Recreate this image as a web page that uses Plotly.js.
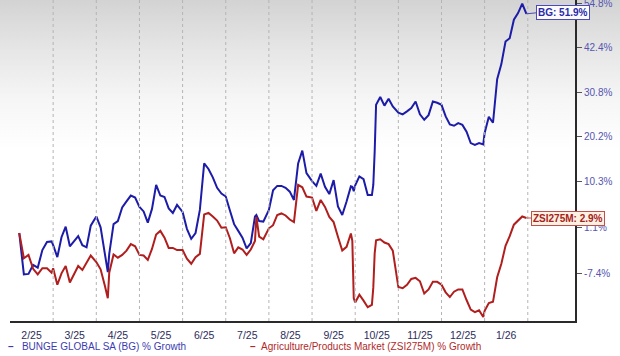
<!DOCTYPE html>
<html>
<head>
<meta charset="utf-8">
<script src="https://cdn.plot.ly/plotly-3.0.1.min.js"></script>
<style>
html,body{margin:0;padding:0;}
body{width:620px;height:356px;overflow:hidden;background:linear-gradient(to bottom,#d3d3d3 0px,#e6e6e6 50px,#f6f6f6 100px,#ffffff 150px,#ffffff 356px);}
#chart{width:620px;height:356px;}
</style>
</head>
<body>
<div id="chart"></div>
<script>
// ---- data ----
const dates = [
 '2025-02-07','2025-02-10','2025-02-13','2025-02-16','2025-02-19','2025-02-22','2025-02-25','2025-02-28',
 '2025-03-01','2025-03-04','2025-03-07','2025-03-10','2025-03-13','2025-03-16','2025-03-19','2025-03-22','2025-03-25','2025-03-28',
 '2025-04-01','2025-04-04','2025-04-07','2025-04-09','2025-04-10','2025-04-13','2025-04-16','2025-04-19','2025-04-22','2025-04-25','2025-04-28',
 '2025-05-01','2025-05-04','2025-05-07','2025-05-10','2025-05-13','2025-05-16','2025-05-19','2025-05-22','2025-05-25','2025-05-28',
 '2025-06-01','2025-06-04','2025-06-07','2025-06-10','2025-06-13','2025-06-16','2025-06-19','2025-06-22','2025-06-25','2025-06-28',
 '2025-07-01','2025-07-04','2025-07-07','2025-07-10','2025-07-13','2025-07-16','2025-07-19','2025-07-22','2025-07-23','2025-07-25','2025-07-28',
 '2025-08-01','2025-08-04','2025-08-07','2025-08-10','2025-08-13','2025-08-16','2025-08-19','2025-08-22','2025-08-25','2025-08-28',
 '2025-09-01','2025-09-04','2025-09-07','2025-09-10','2025-09-13','2025-09-16','2025-09-19','2025-09-22','2025-09-25','2025-09-28','2025-09-29','2025-09-30',
 '2025-10-01','2025-10-04','2025-10-07','2025-10-10','2025-10-13','2025-10-14','2025-10-15','2025-10-16','2025-10-19','2025-10-22','2025-10-25','2025-10-28',
 '2025-11-01','2025-11-04','2025-11-07','2025-11-10','2025-11-13','2025-11-16','2025-11-19','2025-11-22','2025-11-25','2025-11-28',
 '2025-12-01','2025-12-04','2025-12-07','2025-12-10','2025-12-13','2025-12-16','2025-12-19','2025-12-22','2025-12-25','2025-12-28','2025-12-31',
 '2026-01-01','2026-01-04','2026-01-07','2026-01-10','2026-01-13','2026-01-16','2026-01-19','2026-01-22','2026-01-25','2026-01-28','2026-01-31'
];
const bgGrowth = [
 0.0,-7.6,-7.5,-5.9,-6.4,-3.2,-1.7,-1.6,
 -2.3,-4.5,-0.8,1.2,-2.5,-1.6,-0.6,-2.3,-2.7,1.4,
 3.2,1.1,-3.9,-7.2,-3.9,1.7,2.3,5.0,6.2,7.4,7.0,
 5.1,4.2,2.0,4.7,9.6,7.4,7.1,4.8,3.9,5.5,
 4.1,0.8,-1.1,0.0,4.5,14.2,13.0,11.2,9.0,7.8,
 7.2,4.4,1.7,0.4,-0.9,-2.9,-1.9,3.2,3.5,2.3,2.2,
 4.5,8.5,9.4,9.4,9.0,8.2,6.5,14.2,17.0,12.1,
 10.4,9.4,12.0,9.2,7.7,10.6,5.2,3.5,6.2,9.3,9.2,8.3,
 9.5,11.4,10.8,7.5,7.5,9.6,16.8,27.7,29.6,27.5,29.2,27.3,
 25.8,25.4,26.1,26.9,28.5,25.4,24.1,25.2,28.5,28.2,
 27.7,24.9,23.0,22.7,23.3,22.9,21.3,18.7,18.3,18.7,18.4,
 21.0,24.8,23.4,34.1,38.0,44.1,45.0,50.2,52.1,54.9,51.9
];
const zsiGrowth = [
 0.0,-4.7,-4.1,-6.6,-7.6,-6.5,-6.5,-7.3,
 -6.5,-9.4,-7.4,-6.1,-9.0,-7.6,-6.1,-6.8,-5.5,-4.2,
 -5.4,-6.7,-9.6,-11.7,-7.3,-4.0,-4.6,-4.1,-3.3,-2.1,-2.5,
 -4.1,-4.2,-5.0,-3.0,-0.3,0.4,-0.9,-2.8,-2.8,-3.2,
 -3.2,-4.8,-5.7,-4.5,-3.9,3.6,3.9,3.2,2.4,1.0,
 1.1,-1.0,-3.8,-2.7,-3.1,-4.1,-3.1,-1.5,3.1,-0.7,-1.2,
 0.9,1.5,3.5,3.8,3.4,2.6,2.1,9.6,9.1,7.2,
 7.0,4.3,6.5,5.1,3.1,2.1,-0.7,-3.3,-2.6,-0.1,-1.5,-11.7,
 -12.4,-11.1,-12.1,-13.2,-12.8,-9.9,-3.8,-1.4,-1.2,-1.8,-2.1,-3.3,
 -9.8,-10.0,-9.4,-8.4,-8.2,-8.8,-10.9,-10.2,-8.9,-8.9,
 -9.4,-10.7,-11.5,-10.6,-10.2,-10.2,-12.0,-13.6,-14.0,-13.7,-14.8,
 -13.8,-12.5,-12.3,-8.1,-5.7,-2.4,-0.6,1.6,2.5,3.2,2.9
];
const monthLabels = ['2/25','3/25','4/25','5/25','6/25','7/25','8/25','9/25','10/25','11/25','12/25','1/26'];
const yTickPct = [54.8, 42.4, 30.8, 20.2, 10.3, 1.1, -7.4];
const bgName = 'BUNGE GLOBAL SA (BG) % Growth';
const zsiName = 'Agriculture/Products Market (ZSI275M) % Growth';
const bgShort = 'BG';
const zsiShort = 'ZSI275M';

// ---- helpers ----
// months since Feb 1 2025 (each month drawn with equal width, as in the reference)
function monthPos(s){
  const p = s.split('-').map(Number);
  const dim = new Date(p[0], p[1], 0).getDate();
  return (p[0]-2025)*12 + (p[1]-2) + (p[2]-1)/dim;
}
const xs = dates.map(monthPos);
const toFactor = v => 1 + v/100;

const FONT = 'Liberation Sans, Arial, sans-serif';
const BLUE = '#1c1ca8', RED = '#b01e1e';
const GRID = '#b4b4b4';

const traces = [
  {x: xs, y: bgGrowth.map(toFactor), type:'scatter', mode:'lines', name: bgName,
   line:{color: BLUE, width: 2}, hoverinfo:'skip'},
  {x: xs, y: zsiGrowth.map(toFactor), type:'scatter', mode:'lines', name: zsiName,
   line:{color: RED, width: 2}, hoverinfo:'skip'}
];

const lastX = xs[xs.length-1];
const bgLast = bgGrowth[bgGrowth.length-1];
const zsiLast = zsiGrowth[zsiGrowth.length-1];

// grid lines drawn as dotted shapes: month boundaries (vertical) and value ticks (horizontal)
const shapes = monthLabels.map((_, i) => ({
  type:'line', xref:'x', yref:'paper', x0:i+1, x1:i+1, y0:0, y1:1,
  line:{color:GRID, width:1, dash:'dot'}, layer:'above'
})).concat(yTickPct.map(p => ({
  type:'line', xref:'paper', yref:'y', x0:0, x1:1,
  y0:Math.log10(toFactor(p)), y1:Math.log10(toFactor(p)),
  line:{color:GRID, width:1, dash:'dot'}, layer:'above'
})));

const annotations = [
  {x: lastX, y: Math.log10(toFactor(bgLast)), xref:'x', yref:'y', text:'<b>'+bgShort+': '+bgLast.toFixed(1)+'%</b>',
   showarrow:true, arrowhead:0, arrowwidth:1, arrowcolor:'#4a4ab8', ax:10, ay:-1, xanchor:'left', yanchor:'middle',
   bgcolor:'#fbfbff', bordercolor:'#4a4ab8', borderwidth:1, borderpad:1,
   font:{family:FONT, size:10, color:'#2a2aa8'}},
  {x: lastX, y: Math.log10(toFactor(zsiLast)), xref:'x', yref:'y', text:'<b>'+zsiShort+': '+zsiLast.toFixed(1)+'%</b>',
   showarrow:true, arrowhead:0, arrowwidth:1, arrowcolor:'#c05050', ax:5, ay:0, xanchor:'left', yanchor:'middle',
   bgcolor:'#fdf1e1', bordercolor:'#c05050', borderwidth:1, borderpad:1,
   font:{family:FONT, size:10, color:'#a52222'}},
  {xref:'paper', yref:'paper', x:-0.007, y:-0.078, xanchor:'left', yanchor:'middle', showarrow:false,
   text:'<b>\u2013</b>\u00a0\u00a0\u00a0'+bgName, font:{family:FONT, size:10, color:'#3c3cb0'}},
  {xref:'paper', yref:'paper', x:0.421, y:-0.078, xanchor:'left', yanchor:'middle', showarrow:false,
   text:'<b>\u2013</b>\u00a0\u00a0'+zsiName, font:{family:FONT, size:10, color:'#b02a2a'}}
];

const layout = {
  width:620, height:356,
  margin:{l:10, r:45, t:0, b:35},
  paper_bgcolor:'rgba(0,0,0,0)', plot_bgcolor:'rgba(0,0,0,0)',
  showlegend:false,
  xaxis:{
    range:[0, 13.094], tickmode:'array',
    tickvals: monthLabels.map((_, i) => i + 0.5), ticktext: monthLabels,
    showgrid:false, zeroline:false, showline:true, linecolor:'#2a2a2a', linewidth:2,
    ticks:'outside', ticklen:3, tickcolor:'rgba(0,0,0,0)',
    tickfont:{family:FONT, size:10.5, color:'#2d2d5a'},
    fixedrange:true
  },
  yaxis:{
    type:'log', side:'right', range:[-0.0729, 0.1930],
    tickmode:'array', tickvals: yTickPct.map(toFactor), ticktext: yTickPct.map(p => p.toFixed(1)+'%'),
    showgrid:false,
    showline:true, linecolor:'#2a2a2a', linewidth:2,
    ticks:'outside', ticklen:5, tickwidth:1, tickcolor:'#555555',
    ticklabeloverflow:'allow',
    tickfont:{family:FONT, size:10, color:'#5555b0'},
    zeroline:false, fixedrange:true
  },
  shapes: shapes,
  annotations: annotations
};

Plotly.newPlot('chart', traces, layout, {displayModeBar:false});
</script>
</body>
</html>
